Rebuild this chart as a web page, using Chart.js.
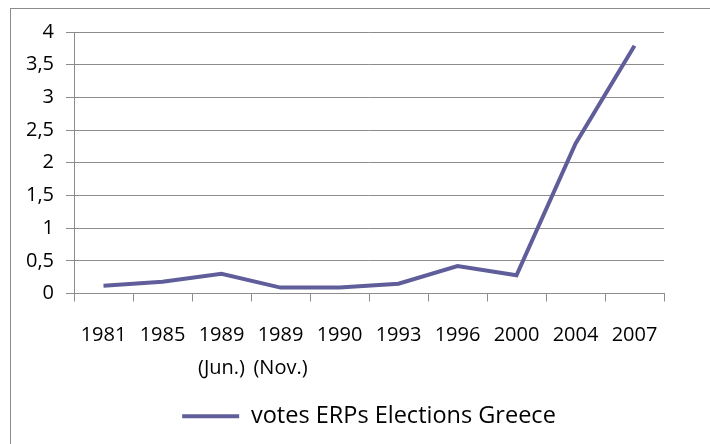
<html>
    <head>
        <script src="https://cdn.jsdelivr.net/npm/chart.js@4.4.1/dist/chart.umd.min.js"></script>
        <style>
            body { margin: 0; background: #ffffff; }
            #wrap { width: 710px; height: 444px; }
        </style>
    </head>
    <body>
        <div id="wrap"><canvas id="myChart" width="710" height="444"></canvas></div>

        <script>
            // election years (two 1989 elections, June and November)
            var yearLabels = ['1981', '1985', ['1989', '(Jun.)'], ['1989', '(Nov.)'], '1990', '1993', '1996', '2000', '2004', '2007'];
            var erpVotes = [0.12, 0.18, 0.30, 0.09, 0.09, 0.15, 0.42, 0.28, 2.29, 3.79];
            var seriesName = 'votes ERPs Elections Greece';
            var yTicks = [0, 0.5, 1, 1.5, 2, 2.5, 3, 3.5, 4];

            var lineColor = '#5f5e9a';
            var gridColor = '#8c8c8c';
            var font = { family: 'Open Sans', size: 20 };

            // grey frame round the whole chart (cut off at right/bottom like the original)
            var framePlugin = {
                id: 'frame',
                beforeDraw: function(chart) {
                    var c = chart.ctx;
                    c.save();
                    c.fillStyle = '#ffffff';
                    c.fillRect(0, 0, chart.width, chart.height);
                    c.strokeStyle = gridColor;
                    c.lineWidth = 1;
                    c.strokeRect(10.5, 8.5, 760, 500);
                    c.restore();
                }
            };

            var ctx = document.getElementById('myChart').getContext('2d');
            var chart = new Chart(ctx, {
                type: 'line',
                data: {
                    labels: yearLabels,
                    datasets: [{
                        label: seriesName,
                        data: erpVotes,
                        borderColor: lineColor,
                        backgroundColor: lineColor,
                        borderWidth: 4,
                        pointRadius: 0,
                        tension: 0,
                        fill: false
                    }]
                },
                options: {
                    responsive: false,
                    animation: false,
                    layout: { padding: { left: 0, right: 46, top: 32, bottom: 6 } },
                    scales: {
                        x: {
                            offset: true,
                            grid: { offset: true, drawOnChartArea: false, color: gridColor, tickLength: 8 },
                            border: { color: gridColor },
                            ticks: { color: '#000', font: { family: 'Open Sans', size: 20, lineHeight: 1.625 }, padding: 18, maxRotation: 0, autoSkip: false },
                            afterFit: function(s) { s.height = 101; }
                        },
                        y: {
                            min: 0,
                            max: 4,
                            afterBuildTicks: function(s) { s.ticks = yTicks.map(function(v) { return { value: v }; }); },
                            grid: { color: gridColor, tickLength: 8 },
                            border: { color: gridColor },
                            ticks: {
                                color: '#000',
                                font: font,
                                padding: 12,
                                callback: function(v) { return String(v).replace('.', ','); }
                            },
                            afterFit: function(s) { s.width = 74; }
                        }
                    },
                    plugins: {
                        legend: {
                            position: 'bottom',
                            fullSize: false,
                            labels: {
                                color: '#000',
                                font: { family: 'Open Sans', size: 23.5 },
                                boxWidth: 57,
                                boxHeight: 4,
                                padding: 10,
                                generateLabels: function(ch) {
                                    var items = Chart.defaults.plugins.legend.labels.generateLabels(ch);
                                    items.forEach(function(it) { it.lineWidth = 0; });
                                    return items;
                                }
                            }
                        },
                        tooltip: { enabled: false }
                    }
                },
                plugins: [framePlugin]
            });
        </script>
    </body>
</html>
